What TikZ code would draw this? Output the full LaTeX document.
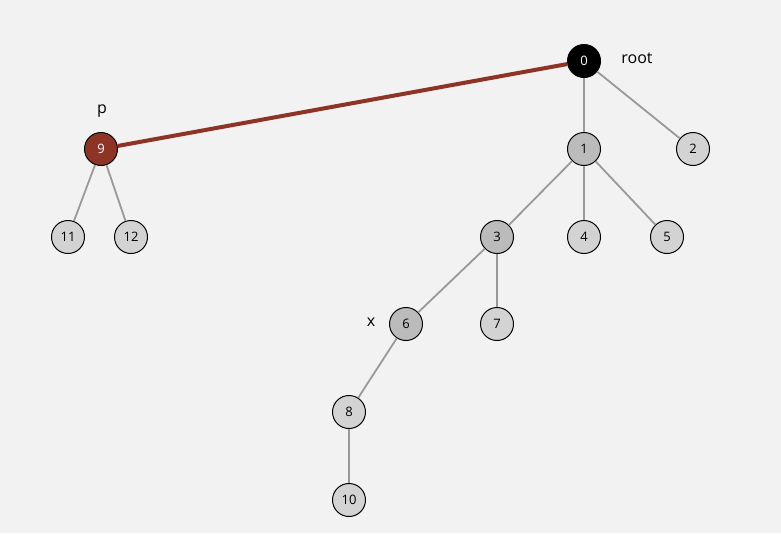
\documentclass[tikz,border=0pt]{standalone}
\usepackage{fontspec}
\setsansfont{Open Sans}
\usepackage{tikz}
\usetikzlibrary{positioning}
\definecolor{bgcol}{HTML}{F2F2F2}
\definecolor{redcol}{HTML}{8E3427}
\definecolor{edgecol}{HTML}{999999}
\definecolor{darkfill}{HTML}{BBBBBB}
\definecolor{lightfill}{HTML}{D3D3D3}

\begin{document}
\begin{tikzpicture}[x=1pt, y=-1pt,
    vtx/.style={circle, draw=black, line width=1pt, minimum size=33pt, inner sep=0pt, font=\sffamily\fontsize{13}{13}\selectfont},
    light/.style={vtx, fill=lightfill},
    dark/.style={vtx, fill=darkfill},
    link/.style={edgecol, line width=1.8pt},
    lbl/.style={font=\sffamily\fontsize{16}{16}\selectfont}]
    \fill[bgcol] (0,0) rectangle (781,533);
    \useasboundingbox (0,0) rectangle (781,533);
    % vertices
    \node[vtx, fill=black, text=white] (n0) at (584,61) {0};
    \node[dark]  (n1) at (584,149) {1};
    \node[light] (n2) at (693,149) {2};
    \node[dark]  (n3) at (497,237) {3};
    \node[light] (n4) at (584,237) {4};
    \node[light] (n5) at (667,237) {5};
    \node[dark]  (n6) at (406,324) {6};
    \node[light] (n7) at (497,324) {7};
    \node[light] (n8) at (349,412) {8};
    \node[light] (n10) at (349,500) {10};
    \node[vtx, fill=redcol, text=white] (n9) at (101,149) {9};
    \node[light] (n11) at (68,237) {11};
    \node[light] (n12) at (131,237) {12};
    % labels
    \node[lbl] (root) at (637,58) {root};
    \node[lbl] (p) at (102,111) {p};
    \node[lbl] (x) at (371,322) {x};
    % links
    \draw[link] (n0) -- (n1);
    \draw[link] (n0) -- (n2);
    \draw[link] (n1) -- (n3);
    \draw[link] (n1) -- (n4);
    \draw[link] (n1) -- (n5);
    \draw[link] (n3) -- (n6);
    \draw[link] (n3) -- (n7);
    \draw[link] (n6) -- (n8);
    \draw[link] (n8) -- (n10);
    \draw[link] (n9) -- (n11);
    \draw[link] (n9) -- (n12);
    \draw[redcol, line width=4pt] (n0) -- (n9);
\end{tikzpicture}
\end{document}
